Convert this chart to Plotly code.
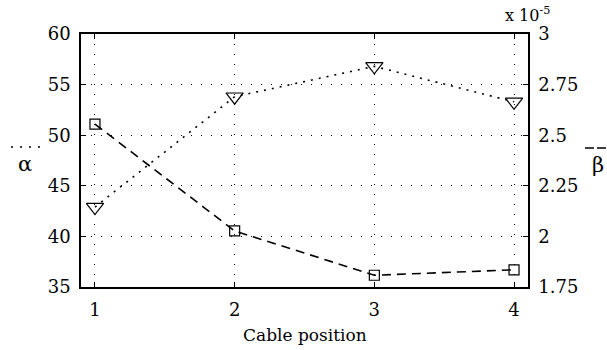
import plotly.graph_objects as go

# Data
cable_position = [1, 2, 3, 4]
alpha_vals = [42.9, 53.8, 56.8, 53.3]            # left axis (dotted, triangles)
beta_vals_e5 = [2.555, 2.027, 1.808, 1.835]      # right axis, units of 1e-5 (dashed, squares)
x_ticks = [1, 2, 3, 4]
left_ticks = [35, 40, 45, 50, 55, 60]
right_ticks = [1.75, 2, 2.25, 2.5, 2.75, 3]
right_ticktext = ["1.75", "2", "2.25", "2.5", "2.75", "3"]

FONT = "DejaVu Serif"
W, H = 607, 350
L, R, T, B = 81, 79, 34, 63
pw, ph = W - L - R, H - T - B

def px_x(x):
    return (x - L) / pw

def px_y(y):
    return (H - B - y) / ph

fig = go.Figure()
fig.add_trace(go.Scatter(
    x=cable_position, y=alpha_vals, yaxis="y", mode="lines+markers",
    line=dict(color="black", width=1.6, dash="2px,6px"),
    marker=dict(symbol="triangle-down-open", size=15, color="black", line=dict(width=1.2)),
    hoverinfo="skip", showlegend=False))
fig.add_trace(go.Scatter(
    x=cable_position, y=beta_vals_e5, yaxis="y2", mode="lines+markers",
    line=dict(color="black", width=1.6, dash="9px,6px"),
    marker=dict(symbol="square-open", size=10, color="black", line=dict(width=1.2)),
    hoverinfo="skip", showlegend=False))

axis_common = dict(
    showline=True, linecolor="black", linewidth=1.5,
    ticks="inside", ticklen=5, tickcolor="black", tickwidth=1,
    tickfont=dict(family=FONT, size=18, color="black"),
    zeroline=False,
)

fig.update_layout(
    width=W, height=H,
    margin=dict(l=L, r=R, t=T, b=B),
    paper_bgcolor="white", plot_bgcolor="white",
    xaxis=dict(range=[0.9, 4.1], tickvals=x_ticks, mirror="ticks",
               showgrid=True, gridcolor="black", gridwidth=1, griddash="1px,9px",
               ticklabelstandoff=6, **axis_common),
    yaxis=dict(range=[35, 60], tickvals=left_ticks, mirror=True,
               showgrid=True, gridcolor="black", gridwidth=1, griddash="1px,9px",
               ticklabelstandoff=5, **axis_common),
    yaxis2=dict(range=[1.75, 3], tickvals=right_ticks, ticktext=right_ticktext,
                overlaying="y", side="right", showgrid=False,
                ticklabelstandoff=5, **axis_common),
    font=dict(family=FONT, color="black"),
)

annotations = [
    dict(text="Cable position", x=0.5, y=px_y(335), xref="paper", yref="paper",
         showarrow=False, xanchor="center", yanchor="middle",
         font=dict(family=FONT, size=17)),
    dict(text="α", x=px_x(25), y=px_y(164), xref="paper", yref="paper",
         showarrow=False, xanchor="center", yanchor="middle",
         font=dict(family=FONT, size=21)),
    dict(text="β", x=px_x(598), y=px_y(165), xref="paper", yref="paper",
         showarrow=False, xanchor="center", yanchor="middle",
         font=dict(family=FONT, size=21)),
    dict(text="x 10<sup>-5</sup>", x=px_x(527), y=px_y(15), xref="paper", yref="paper",
         showarrow=False, xanchor="center", yanchor="middle",
         font=dict(family=FONT, size=16)),
]
fig.update_layout(annotations=annotations)

fig.add_shape(type="line", xref="paper", yref="paper",
              x0=px_x(11), x1=px_x(40), y0=px_y(147), y1=px_y(147),
              line=dict(color="black", width=1.6, dash="2px,7px"))
fig.add_shape(type="line", xref="paper", yref="paper",
              x0=px_x(585), x1=px_x(606), y0=px_y(148), y1=px_y(148),
              line=dict(color="black", width=1.3, dash="9px,3px"))

fig.write_html("out.html")
